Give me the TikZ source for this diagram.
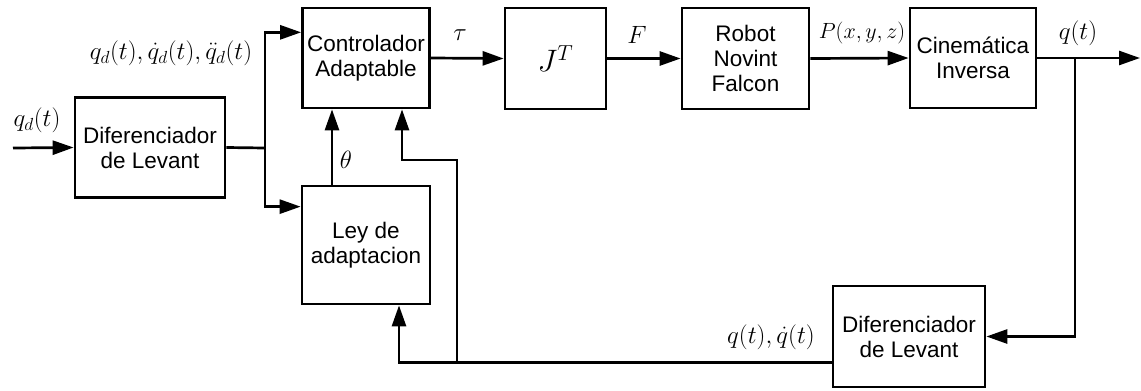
\documentclass[tikz,border=0pt]{standalone}
\usepackage{fix-cm}
\usepackage{fontspec}
\setmainfont{Liberation Sans}
\usetikzlibrary{arrows.meta,calc}
\begin{document}
\begin{tikzpicture}[x=1pt,y=-1pt,
  blk/.style={draw,line width=2.7pt,align=center,inner sep=0pt,font=\fontsize{22.5}{25}\selectfont},
  ln/.style={line width=2.7pt},
  arr/.style={line width=2.7pt,-{Triangle[length=21pt,width=14pt]}},
  lbl/.style={font=\fontsize{25}{28}\selectfont,inner sep=0pt}]
\useasboundingbox (0,0) rectangle (1141,391);
% blocks
\node[blk,minimum width=150pt,minimum height=100pt] (dif1) at (150,147.5) {Diferenciador\\de Levant};
\node[blk,minimum width=127pt,minimum height=100pt] (ctrl) at (366,58) {Controlador\\Adaptable};
\node[blk,minimum width=101pt,minimum height=101pt,font=\fontsize{31}{34}\selectfont] (jt) at (555.5,58.5) {$J^T$};
\node[blk,minimum width=127pt,minimum height=101pt] (rob) at (745.5,58.5) {Robot\\Novint\\Falcon};
\node[blk,minimum width=126pt,minimum height=100pt] (cin) at (973,58) {Cinemática\\Inversa};
\node[blk,minimum width=128pt,minimum height=118pt] (ley) at (366,245) {Ley de\\adaptacion};
\node[blk,minimum width=152pt,minimum height=101pt] (dif2) at (909,336.5) {Diferenciador\\de Levant};
% coordinates
\coordinate (in) at (13,148);
\coordinate (b1) at (265,148);
\coordinate (b2) at (1075,58);
\coordinate (out) at (1140,58);
\coordinate (fb) at ($(dif2.north west)!0.75!(dif2.south west)$);
\coordinate (j) at (457,361);
\coordinate (k) at (457,160);
% connectors
\draw[arr] (in) -- (dif1.west);
\draw[ln] (dif1.east) -- (b1);
\draw[arr] (b1) |- ($(ctrl.north west)!0.25!(ctrl.south west)$);
\draw[arr] (b1) |- ([yshift=-22pt]ley.north west);
\draw[arr] (ctrl.east) -- (jt.west);
\draw[arr] (jt.east) -- (rob.west);
\draw[arr] (rob.east) -- (cin.west);
\draw[arr] (cin.east) -- (out);
\draw[arr] (b2) |- (dif2.east);
\draw[arr] (fb) -| ([xshift=33pt]ley.south);
\draw[arr] ([xshift=-34pt]ley.north) -- ([xshift=-34pt]ctrl.south);
\draw[arr] (j) -- (k) -| ([xshift=36pt]ctrl.south);
% labels
\node[lbl] (lqd) at (37,120) {$q_d(t)$};
\node[lbl] (lqdd) at (171,53) {$q_d(t),\dot{q}_d(t),\ddot{q}_d(t)$};
\node[lbl] (ltau) at (460,35) {$\tau$};
\node[lbl] (lF) at (637,35) {$F$};
\node[lbl,font=\fontsize{22}{26}\selectfont] (lP) at (862,33) {$P(x,y,z)$};
\node[lbl] (lq) at (1078,33) {$q(t)$};
\node[lbl] (lth) at (346,160) {$\theta$};
\node[lbl] (lqq) at (771,337) {$q(t),\dot{q}(t)$};
\end{tikzpicture}
\end{document}
